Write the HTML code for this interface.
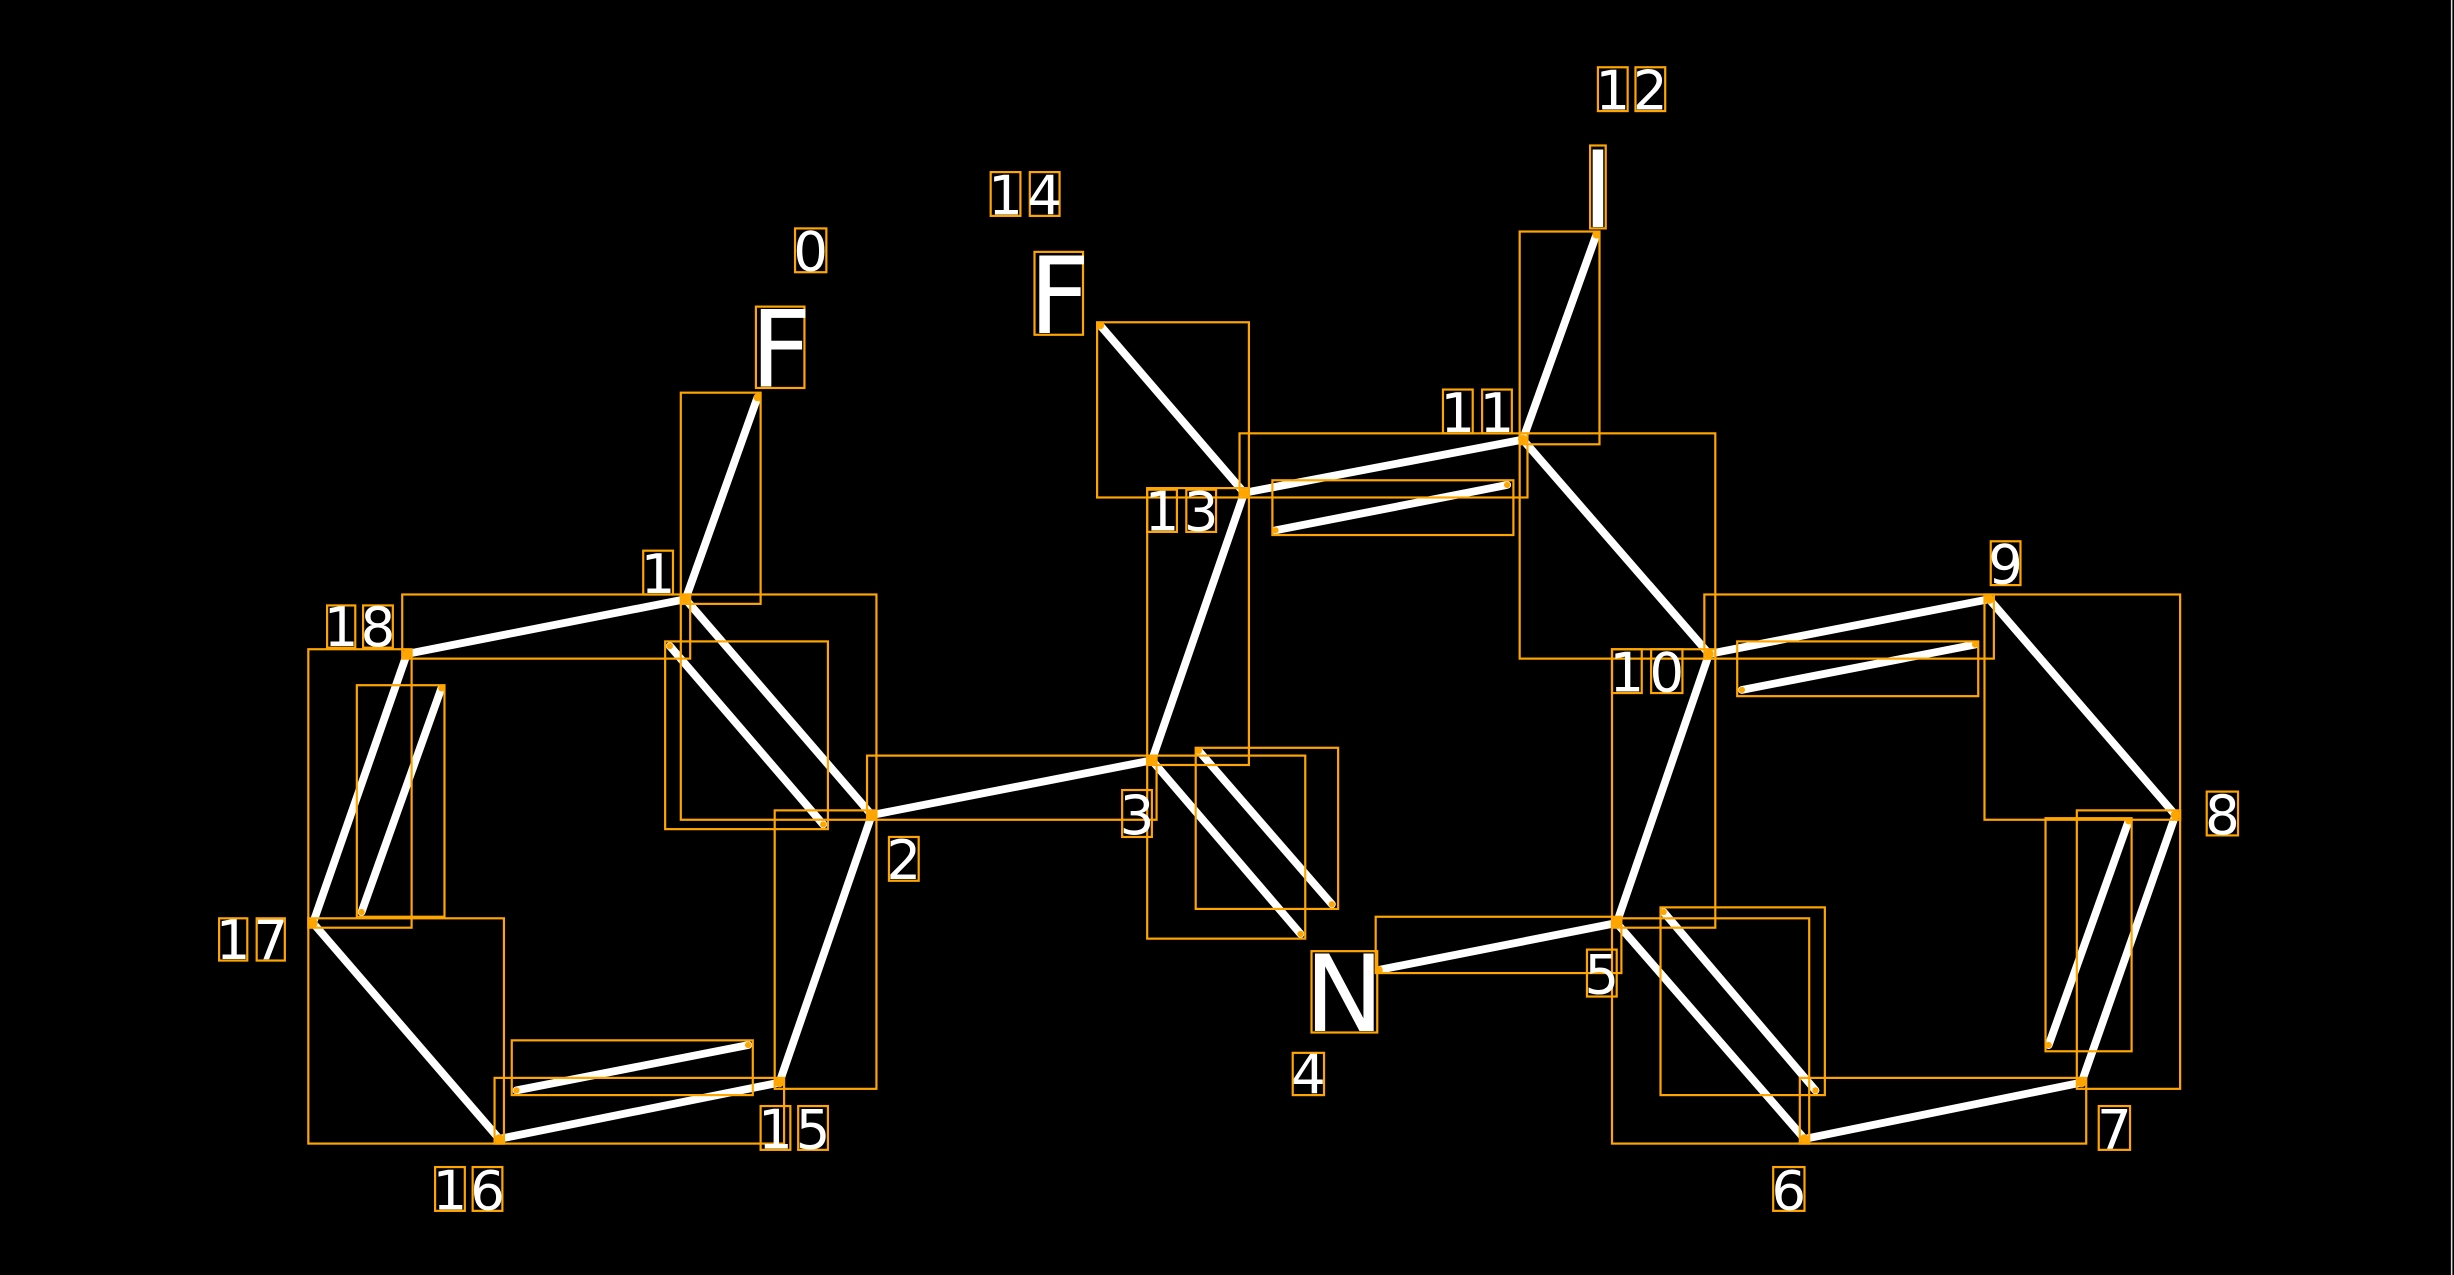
<!DOCTYPE html>
<html><head><meta charset="utf-8"><style>html,body{margin:0;padding:0;background:#000;overflow:hidden}svg{display:block}</style></head>
<body>
<svg width="2454" height="1275" viewBox="0 0 1568 815" preserveAspectRatio="none" xmlns="http://www.w3.org/2000/svg">
<rect width="1568" height="815" fill="#000"/>
<line x1="1566.5" y1="0" x2="1566.5" y2="815" stroke="#ddd" stroke-width="1"/>
<g stroke="#fff" stroke-width="5" stroke-linecap="round">
<line x1="484" y1="254" x2="438" y2="383"/>
<line x1="438" y1="383" x2="260" y2="418"/>
<line x1="260" y1="418" x2="200" y2="590"/>
<line x1="282" y1="440" x2="231" y2="583"/>
<line x1="200" y1="590" x2="319" y2="728"/>
<line x1="319" y1="728" x2="498" y2="692"/>
<line x1="330" y1="697" x2="478" y2="668"/>
<line x1="498" y1="692" x2="557" y2="521"/>
<line x1="557" y1="521" x2="438" y2="383"/>
<line x1="428" y1="413" x2="526" y2="527"/>
<line x1="557" y1="521" x2="736" y2="486"/>
<line x1="736" y1="486" x2="795" y2="315"/>
<line x1="795" y1="315" x2="703" y2="208"/>
<line x1="795" y1="315" x2="973" y2="281"/>
<line x1="815" y1="339" x2="963" y2="310"/>
<line x1="973" y1="281" x2="1020" y2="150"/>
<line x1="973" y1="281" x2="1092" y2="418"/>
<line x1="1092" y1="418" x2="1271" y2="383"/>
<line x1="1113" y1="441" x2="1262" y2="412"/>
<line x1="1271" y1="383" x2="1390" y2="521"/>
<line x1="1390" y1="521" x2="1330" y2="692"/>
<line x1="1360" y1="525" x2="1309" y2="668"/>
<line x1="1330" y1="692" x2="1153" y2="728"/>
<line x1="1153" y1="728" x2="1033" y2="590"/>
<line x1="1063" y1="583" x2="1160" y2="697"/>
<line x1="1033" y1="590" x2="1092" y2="418"/>
<line x1="1033" y1="590" x2="881" y2="620"/>
<line x1="736" y1="486" x2="831" y2="597"/>
<line x1="766" y1="480" x2="851" y2="578"/>
</g>
<g fill="none" stroke="#ffa500" stroke-width="1.4">
<rect x="435" y="251" width="51" height="135"/>
<rect x="257" y="380" width="184" height="41"/>
<rect x="435" y="380" width="125" height="144"/>
<rect x="495" y="518" width="65" height="178"/>
<rect x="197" y="415" width="66" height="178"/>
<rect x="197" y="587" width="125" height="144"/>
<rect x="316" y="689" width="185" height="42"/>
<rect x="228" y="438" width="56" height="148"/>
<rect x="425" y="410" width="104" height="120"/>
<rect x="327" y="665" width="154" height="35"/>
<rect x="554" y="483" width="185" height="41"/>
<rect x="733" y="312" width="65" height="177"/>
<rect x="701" y="206" width="97" height="112"/>
<rect x="792" y="277" width="184" height="41"/>
<rect x="813" y="307" width="154" height="35"/>
<rect x="971" y="148" width="51" height="136"/>
<rect x="971" y="277" width="125" height="144"/>
<rect x="1089" y="380" width="185" height="41"/>
<rect x="1110" y="410" width="154" height="35"/>
<rect x="1268" y="380" width="125" height="144"/>
<rect x="1327" y="518" width="66" height="178"/>
<rect x="1307" y="523" width="55" height="149"/>
<rect x="1150" y="689" width="183" height="42"/>
<rect x="1030" y="587" width="126" height="144"/>
<rect x="1061" y="580" width="105" height="120"/>
<rect x="1030" y="415" width="66" height="178"/>
<rect x="879" y="586" width="157" height="36"/>
<rect x="733" y="483" width="101" height="117"/>
<rect x="764" y="478" width="91" height="103"/>
<rect x="508" y="146" width="20" height="28"/>
<rect x="483" y="196" width="31" height="52"/>
<rect x="411" y="352" width="19" height="28"/>
<rect x="209" y="387" width="18" height="27"/><rect x="232" y="387" width="19" height="27"/>
<rect x="140" y="587" width="18" height="27"/><rect x="164" y="587" width="18" height="27"/>
<rect x="278" y="746" width="19" height="28"/><rect x="302" y="746" width="19" height="28"/>
<rect x="486" y="707" width="19" height="28"/><rect x="510" y="707" width="19" height="28"/>
<rect x="568" y="535" width="19" height="28"/>
<rect x="717" y="505" width="19" height="30"/>
<rect x="733" y="313" width="19" height="27"/><rect x="758" y="313" width="19" height="27"/>
<rect x="661" y="161" width="31" height="53"/>
<rect x="633" y="110" width="19" height="28"/><rect x="658" y="110" width="19" height="28"/>
<rect x="922" y="249" width="19" height="28"/><rect x="947" y="249" width="19" height="28"/>
<rect x="1016" y="93" width="10" height="53"/>
<rect x="1021" y="43" width="19" height="28"/><rect x="1045" y="43" width="19" height="28"/>
<rect x="1030" y="415" width="19" height="28"/><rect x="1055" y="415" width="20" height="28"/>
<rect x="1272" y="346" width="19" height="28"/>
<rect x="1410" y="506" width="20" height="28"/>
<rect x="1341" y="707" width="20" height="28"/>
<rect x="1133" y="746" width="20" height="28"/>
<rect x="1014" y="607" width="19" height="30"/>
<rect x="838" y="608" width="42" height="52"/>
<rect x="826" y="673" width="20" height="27"/>
</g>
<g fill="#ffa500">
<circle cx="438" cy="383" r="3"/><circle cx="260" cy="418" r="3"/><circle cx="200" cy="590" r="3"/><circle cx="319" cy="728" r="3"/><circle cx="498" cy="692" r="3"/><circle cx="557" cy="521" r="3"/><circle cx="736" cy="486" r="3"/><circle cx="795" cy="315" r="3"/><circle cx="973" cy="281" r="3"/><circle cx="1092" cy="418" r="3"/><circle cx="1271" cy="383" r="3"/><circle cx="1390" cy="521" r="3"/><circle cx="1330" cy="692" r="3"/><circle cx="1153" cy="728" r="3"/><circle cx="1033" cy="590" r="3"/><circle cx="881" cy="620" r="2.5"/><circle cx="703" cy="208" r="2.5"/><circle cx="1020" cy="150" r="2.5"/><circle cx="484" cy="254" r="2.5"/>
<circle cx="428" cy="413" r="2"/><circle cx="526" cy="527" r="2"/><circle cx="282" cy="440" r="2"/><circle cx="231" cy="583" r="2"/><circle cx="330" cy="697" r="2"/><circle cx="478" cy="668" r="2"/><circle cx="815" cy="339" r="2"/><circle cx="963" cy="310" r="2"/><circle cx="1113" cy="441" r="2"/><circle cx="1262" cy="412" r="2"/><circle cx="1360" cy="525" r="2"/><circle cx="1309" cy="668" r="2"/><circle cx="1063" cy="583" r="2"/><circle cx="1160" cy="697" r="2"/><circle cx="831" cy="597" r="2"/><circle cx="851" cy="578" r="2"/><circle cx="766" cy="480" r="2"/>
</g>
<g fill="#fff" font-family="DejaVu Sans, Liberation Sans, sans-serif" font-size="35" text-anchor="middle">
<text x="518" y="173">0</text>
<text x="420.5" y="379">1</text>
<text x="218" y="413">1</text><text x="241.5" y="413">8</text>
<text x="149" y="613">1</text><text x="173" y="613">7</text>
<text x="287.5" y="773">1</text><text x="311.5" y="773">6</text>
<text x="495.5" y="734">1</text><text x="519.5" y="734">5</text>
<text x="577.5" y="562">2</text>
<text x="726.5" y="533">3</text>
<text x="742.5" y="339">1</text><text x="767.5" y="339">3</text>
<text x="642.5" y="137">1</text><text x="667.5" y="137">4</text>
<text x="931.5" y="276">1</text><text x="956.5" y="276">1</text>
<text x="1030.5" y="70">1</text><text x="1054.5" y="70">2</text>
<text x="1039.5" y="442">1</text><text x="1065" y="442">0</text>
<text x="1281.5" y="373">9</text>
<text x="1420" y="533">8</text>
<text x="1351" y="734">7</text>
<text x="1143" y="773">6</text>
<text x="1023.5" y="635">5</text>
<text x="836" y="699">4</text>
</g>
<g fill="#fff" font-family="DejaVu Sans, Liberation Sans, sans-serif" font-size="68" text-anchor="middle">
<text x="499" y="247">F</text>
<text x="677" y="213">F</text>
<text x="1021" y="145">I</text>
<text x="859" y="659">N</text>
</g>
</svg>
</body></html>
